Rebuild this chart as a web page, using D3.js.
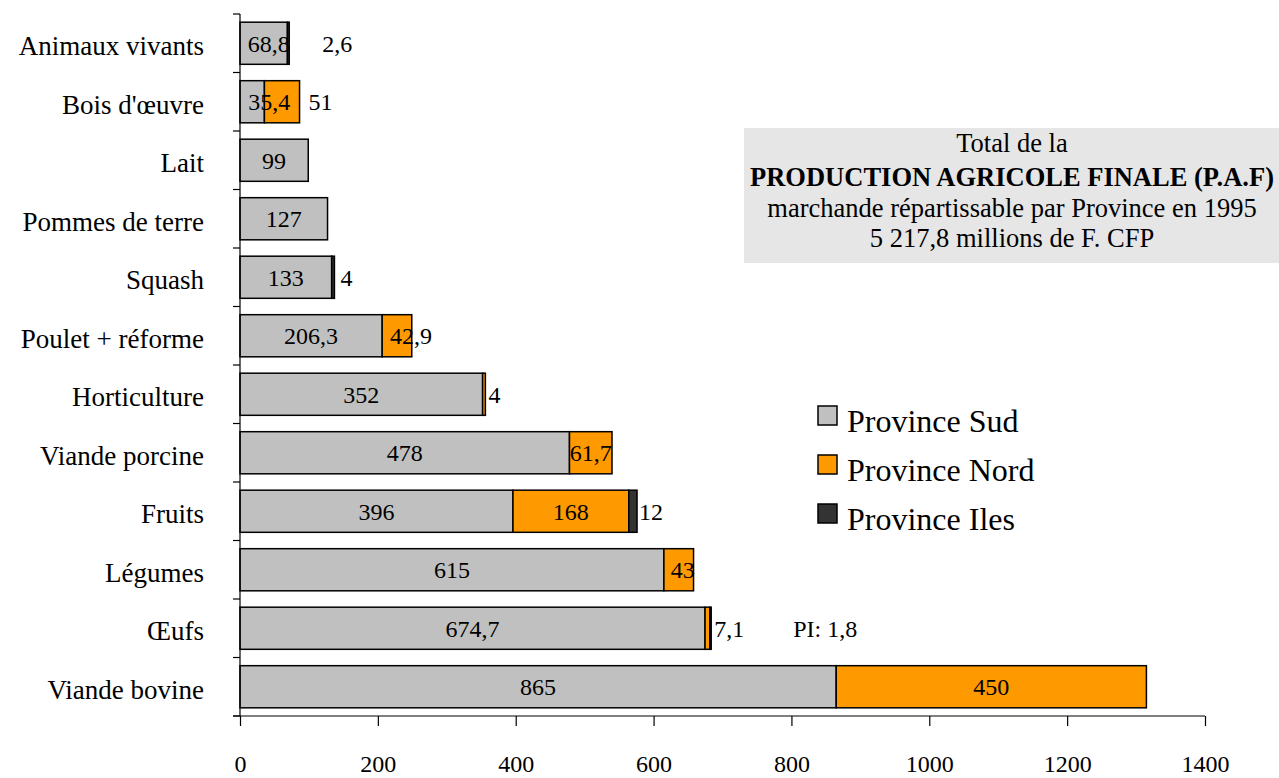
<!DOCTYPE html>
<html><head><meta charset="utf-8">
<script src="https://cdn.jsdelivr.net/npm/d3@7"></script>
<style>body{margin:0;background:#fff}svg{display:block}text{font-family:"Liberation Serif","Times New Roman",serif;fill:#000}</style>
</head><body><svg id="c" width="1279" height="778"></svg>
<script>
const categories = ["Animaux vivants","Bois d'œuvre","Lait","Pommes de terre","Squash","Poulet + réforme","Horticulture","Viande porcine","Fruits","Légumes","Œufs","Viande bovine"];
const sud  = [68.8, 35.4, 99, 127, 133, 206.3, 352, 478, 396, 615, 674.7, 865];
const nord = [0, 51, 0, 0, 0, 42.9, 4, 61.7, 168, 43, 7.1, 450];
const iles = [2.6, 0, 0, 0, 4, 0, 0, 0, 12, 0, 1.8, 0];
const seriesNames = ["Province Sud","Province Nord","Province Iles"];
const xTicks = [0,200,400,600,800,1000,1200,1400];
const titleLines = ["Total de la","PRODUCTION AGRICOLE FINALE (P.A.F)","marchande répartissable par Province en 1995","5 217,8 millions de F. CFP"];

// label layout: [mode, dx, prefix]
const labelLayout = {
  "Animaux vivants|0":["in",5], "Animaux vivants|2":["out",33],
  "Bois d'œuvre|0":["in",17], "Bois d'œuvre|1":["out",9],
  "Squash|2":["out",6],
  "Poulet + réforme|1":["in",14],
  "Horticulture|1":["out",3],
  "Fruits|2":["out",2],
  "Légumes|1":["in",4],
  "Œufs|1":["out",3], "Œufs|2":["out",82,"PI: "]
};
const colors = ["#c0c0c0","#ff9900","#333333"];

const svg = d3.select("#c");
const x = d3.scaleLinear().domain([0,1400]).range([240,1205]);
const y = d3.scaleBand().domain(categories).range([14,716]).paddingInner(0.28).paddingOuter(0.14);

const rows = categories.map((c,i)=>({cat:c, vals:[sud[i],nord[i],iles[i]]}));
const stack = d3.stack().keys([0,1,2]).value((d,k)=>d.vals[k])(rows);

const g = svg.append("g");
stack.forEach((layer,k)=>{
  g.selectAll(null).data(layer.filter(d=>d.data.vals[k]>0)).join("rect")
    .attr("x",d=>x(d[0])).attr("y",d=>y(d.data.cat))
    .attr("width",d=>x(d[1])-x(d[0])).attr("height",y.bandwidth())
    .attr("fill",colors[k]).attr("stroke","#000").attr("stroke-width",1.5);
});

// value labels
const fmt = v => String(v).replace(".", ",");
stack.forEach((layer,k)=>{
  layer.forEach(d=>{
    const v = d.data.vals[k]; if(!(v>0)) return;
    const lay = labelLayout[d.data.cat+"|"+k] || ["in",0];
    const total = d3.sum(d.data.vals);
    const cy = y(d.data.cat)+y.bandwidth()/2;
    const t = g.append("text").attr("font-size",24).attr("dy","0.35em").attr("y",cy)
      .text((lay[2]||"")+fmt(v));
    if(lay[0]==="in"){ t.attr("x",(x(d[0])+x(d[1]))/2+lay[1]).attr("text-anchor","middle"); }
    else { t.attr("x",x(total)+lay[1]).attr("text-anchor","start"); }
  });
});

// y axis
const ya = svg.append("g");
ya.append("line").attr("x1",240).attr("x2",240).attr("y1",14).attr("y2",716).attr("stroke","#000").attr("stroke-width",1.2);
d3.range(categories.length+1).forEach(i=>{
  const yy = 14 + i*(702/categories.length);
  ya.append("line").attr("x1",233).attr("x2",240).attr("y1",yy).attr("y2",yy).attr("stroke","#000").attr("stroke-width",1.2);
});
ya.selectAll("text.cat").data(categories).join("text").attr("class","cat")
  .attr("x",204).attr("y",d=>y(d)+y.bandwidth()/2+12).attr("text-anchor","end")
  .attr("font-size",27).text(d=>d);

// x axis
const xa = svg.append("g").attr("transform","translate(0,716)")
  .call(d3.axisBottom(x).tickValues(xTicks).tickSize(10).tickFormat(d=>d));
xa.select(".domain").attr("stroke","#000").attr("stroke-width",1.2).attr("d","M233,0H1205");
xa.selectAll(".tick line").attr("stroke","#000").attr("stroke-width",1.2);
xa.selectAll(".tick text").attr("font-size",24).attr("font-family","Liberation Serif, serif").attr("fill","#000").attr("y",0).attr("dy",0).attr("transform","translate(0,56)");

// title box
const tb = svg.append("g");
tb.append("rect").attr("x",744).attr("y",128).attr("width",535).attr("height",135).attr("fill","#e6e6e6");
const tby = [152,186,217,247];
titleLines.forEach((s,i)=>{
  tb.append("text").attr("x",1012).attr("y",tby[i]).attr("text-anchor","middle")
    .attr("font-size",26.5).attr("font-weight",i===1?"bold":"normal").text(s);
});

// legend
const lg = svg.append("g");
seriesNames.forEach((s,i)=>{
  const yy = 406 + i*49;
  lg.append("rect").attr("x",818).attr("y",yy).attr("width",19).attr("height",19).attr("fill",colors[i]).attr("stroke","#000").attr("stroke-width",1.5);
  lg.append("text").attr("x",847).attr("y",yy+26).attr("font-size",32).text(s);
});
</script></body></html>
